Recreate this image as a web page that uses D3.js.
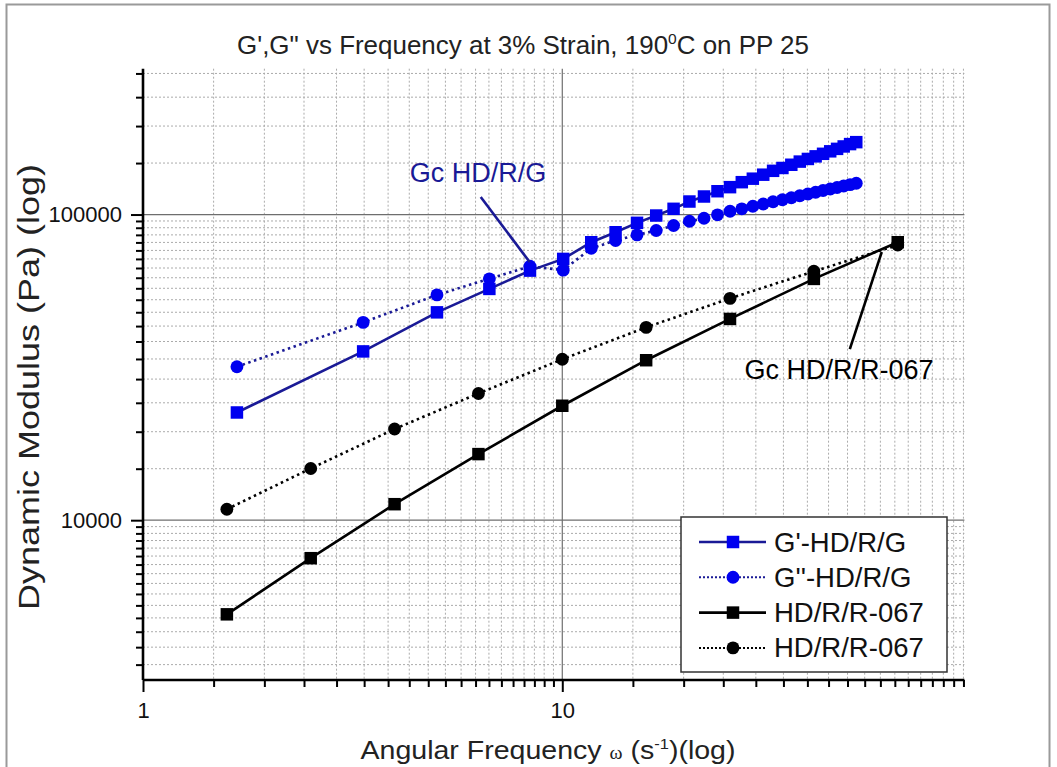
<!DOCTYPE html>
<html><head><meta charset="utf-8">
<script src="https://cdn.jsdelivr.net/npm/d3@7"></script>
<style>
body{margin:0;background:#fff}
svg{display:block}
text{font-family:"Liberation Sans",Arial,Helvetica,sans-serif}
</style>
</head><body>
<svg id="chart" width="1057" height="767"></svg>
<script>
// ---------------- data ----------------
const freqRRR = [1.585, 2.512, 3.981, 6.310, 10.00, 15.85, 25.12, 39.81, 63.10];
const gPrimeRRR = [4920, 7510, 11280, 16450, 23680, 33370, 45540, 61570, 81170];
const gDoubleRRR = [10860, 14760, 19870, 25980, 33620, 42740, 53190, 65200, 79450];

const freqG = [1.675, 3.35, 5.025, 6.70, 8.375, 10.05, 11.725, 13.40, 15.075, 16.75,
  18.425, 20.10, 21.775, 23.45, 25.125, 26.80, 28.475, 30.15, 31.825, 33.50,
  35.175, 36.85, 38.525, 40.20, 41.875, 43.55, 45.225, 46.90, 48.575, 50.25];
const gPrimeG = [22510, 35660, 47860, 57100, 65540, 71580, 81170, 87500, 93930, 99250,
  104400, 110300, 114550, 119200, 122900, 127600, 131000, 135000, 139000, 142000,
  145500, 149000, 152000, 155000, 158000, 161000, 164000, 167000, 170000, 172500];
const gDoubleG = [31780, 44380, 54580, 61610, 67740, 65770, 77560, 82190, 85800, 88640,
  92050, 95080, 97260, 99780, 102500, 104400, 106400, 108300, 110100, 111800,
  113500, 115200, 116700, 118300, 119800, 121200, 122600, 124000, 125300, 126600];

const xMajorTicks = [1, 10];
const xTickLabels = ["1", "10"];
const yMajorTicks = [10000, 100000];
const yTickLabels = ["10000", "100000"];
const xDomain = [1, 91];
const yDomain = [3000, 300000];

const legendLabels = ["G'-HD/R/G", "G''-HD/R/G", "HD/R/R-067", "HD/R/R-067"];
const annoG = {text: "Gc HD/R/G", tx: 4.33, ty: 127800, x1: 6.39, y1: 114100, x2: 8.36, y2: 69900};
const annoR = {text: "Gc HD/R/R-067", tx: 27.2, ty: 28930, x1: 48.5, y1: 36260, x2: 57.8, y2: 75400};

// ---------------- setup ----------------
const svg = d3.select("#chart");
const W = 1057, H = 767;
const plot = {left: 143, right: 964.4, top: 68.7, bottom: 680};
const BLUE = "#0000f0", NAVY = "#1a1a96", BLACK = "#000";

svg.append("rect").attr("width", W).attr("height", H).attr("fill", "#fff");
svg.append("rect").attr("x", 6.5).attr("y", 4.5).attr("width", 1043).attr("height", 800)
  .attr("fill", "none").attr("stroke", "#9a9a9a").attr("stroke-width", 2);

const x = d3.scaleLog().domain(xDomain).range([plot.left, plot.right]);
const y = d3.scaleLog().domain(yDomain).range([plot.bottom, plot.top]);

// Origin-style minor ticks: 18 linear subdivisions per decade
function minorTicks(domain) {
  const out = [];
  const lo = Math.floor(Math.log10(domain[0])), hi = Math.ceil(Math.log10(domain[1]));
  for (let e = lo; e < hi; e++) {
    const b = Math.pow(10, e);
    for (let k = 1; k <= 18; k++) {
      const v = b * (1 + 9 * k / 19);
      if (v >= domain[0] && v <= domain[1]) out.push(v);
    }
  }
  return out;
}
const xMinor = minorTicks(xDomain);
const yMinor = minorTicks(yDomain);

// ---------------- grid ----------------
const grid = svg.append("g");
grid.selectAll(".gxm").data(xMinor).join("line")
  .attr("x1", d => x(d)).attr("x2", d => x(d)).attr("y1", plot.top).attr("y2", plot.bottom)
  .attr("stroke", "#ababab").attr("stroke-width", 1).attr("stroke-dasharray", "2,2");
grid.selectAll(".gym").data(yMinor).join("line")
  .attr("y1", d => y(d)).attr("y2", d => y(d)).attr("x1", plot.left).attr("x2", plot.right)
  .attr("stroke", "#ababab").attr("stroke-width", 1).attr("stroke-dasharray", "2,2");
grid.selectAll(".gxM").data(xMajorTicks.filter(d => d > xDomain[0])).join("line")
  .attr("x1", d => x(d)).attr("x2", d => x(d)).attr("y1", plot.top).attr("y2", plot.bottom)
  .attr("stroke", "#6e6e6e").attr("stroke-width", 1.2);
grid.selectAll(".gyM").data(yMajorTicks).join("line")
  .attr("y1", d => y(d)).attr("y2", d => y(d)).attr("x1", plot.left).attr("x2", plot.right)
  .attr("stroke", "#6e6e6e").attr("stroke-width", 1.2);

// ---------------- axes ----------------
const xAxisG = svg.append("g").attr("transform", `translate(0,${plot.bottom})`);
xAxisG.call(d3.axisBottom(x).tickValues(xMinor).tickSize(7).tickFormat(""));
xAxisG.call(g => g.select(".domain").remove());
const xAxisM = svg.append("g").attr("transform", `translate(0,${plot.bottom})`);
xAxisM.call(d3.axisBottom(x).tickValues(xMajorTicks).tickSize(12).tickPadding(10)
  .tickFormat((d, i) => xTickLabels[i]));
xAxisM.select(".domain").attr("d", `M${plot.left},0H${plot.right}`);

const yAxisG = svg.append("g").attr("transform", `translate(${plot.left},0)`);
yAxisG.call(d3.axisLeft(y).tickValues(yMinor).tickSize(7).tickFormat(""));
yAxisG.call(g => g.select(".domain").remove());
const yAxisM = svg.append("g").attr("transform", `translate(${plot.left},0)`);
yAxisM.call(d3.axisLeft(y).tickValues(yMajorTicks).tickSize(12).tickPadding(9)
  .tickFormat((d, i) => yTickLabels[i]));
yAxisM.select(".domain").attr("d", `M0,${plot.bottom}V${plot.top}`);

svg.selectAll(".tick line").attr("stroke", "#000").attr("stroke-width", 2);
svg.selectAll(".domain").attr("stroke", "#000").attr("stroke-width", 2.6);
svg.selectAll(".tick text").attr("font-size", 22).attr("fill", "#111")
  .style("font-family", '"Liberation Sans", Arial, sans-serif');

// ---------------- series ----------------
const series = [
  {xs: freqG, ys: gPrimeG, line: NAVY, marker: BLUE, dash: null, shape: "square"},
  {xs: freqG, ys: gDoubleG, line: NAVY, marker: BLUE, dash: "2.5,3.5", shape: "circle"},
  {xs: freqRRR, ys: gPrimeRRR, line: BLACK, marker: BLACK, dash: null, shape: "square"},
  {xs: freqRRR, ys: gDoubleRRR, line: BLACK, marker: BLACK, dash: "2.5,3.5", shape: "circle"}
];
const lineGen = d3.line().x(d => x(d[0])).y(d => y(d[1]));
const sq = d3.symbol().type(d3.symbolSquare).size(156);
const ci = d3.symbol().type(d3.symbolCircle).size(130);

series.forEach(s => {
  const pts = s.xs.map((v, i) => [v, s.ys[i]]);
  svg.append("path").datum(pts).attr("d", lineGen).attr("fill", "none")
    .attr("stroke", s.line).attr("stroke-width", 2.6)
    .attr("stroke-dasharray", s.dash);
});
series.forEach(s => {
  const pts = s.xs.map((v, i) => [v, s.ys[i]]);
  svg.append("g").selectAll("path").data(pts).join("path")
    .attr("d", s.shape === "square" ? sq : ci)
    .attr("transform", d => `translate(${x(d[0])},${y(d[1])})`)
    .attr("fill", s.marker);
});

// ---------------- annotations ----------------
[[annoG, NAVY], [annoR, BLACK]].forEach(([a, col]) => {
  svg.append("line").attr("x1", x(a.x1)).attr("y1", y(a.y1)).attr("x2", x(a.x2)).attr("y2", y(a.y2))
    .attr("stroke", col).attr("stroke-width", 2.6);
  svg.append("text").attr("x", x(a.tx)).attr("y", y(a.ty)).attr("font-size", 27)
    .attr("fill", col).text(a.text);
});

// ---------------- legend ----------------
const lg = svg.append("g").attr("transform", "translate(681,517)");
lg.append("rect").attr("width", 266).attr("height", 155).attr("fill", "#fff")
  .attr("stroke", "#333").attr("stroke-width", 1.5);
series.forEach((s, i) => {
  const cy = 25 + i * 35.3;
  lg.append("line").attr("x1", 18).attr("x2", 85).attr("y1", cy).attr("y2", cy)
    .attr("stroke", s.line).attr("stroke-width", s.dash ? 2 : 2.6)
    .attr("stroke-dasharray", s.dash ? "2,2" : null);
  lg.append("path").attr("d", (s.shape === "square" ? sq : ci)())
    .attr("transform", `translate(52,${cy})`).attr("fill", s.marker);
  lg.append("text").attr("x", 93).attr("y", cy + 9.5).attr("font-size", 27.5)
    .attr("fill", "#111").text(legendLabels[i]);
});

// ---------------- titles ----------------
const title = svg.append("text").attr("x", 523).attr("y", 54).attr("text-anchor", "middle")
  .attr("font-size", 25).attr("fill", "#222")
  .attr("textLength", 572).attr("lengthAdjust", "spacingAndGlyphs");
title.append("tspan").text("G',G\" vs Frequency at 3% Strain, 190");
title.append("tspan").attr("dy", -10).attr("font-size", 15).text("0");
title.append("tspan").attr("dy", 10).text("C on PP 25");

const xl = svg.append("text").attr("x", 548).attr("y", 759).attr("text-anchor", "middle")
  .attr("font-size", 26).attr("fill", "#222")
  .attr("textLength", 375).attr("lengthAdjust", "spacingAndGlyphs");
xl.append("tspan").text("Angular Frequency ");
xl.append("tspan").attr("font-size", 18).style("font-family", '"Liberation Serif", serif').text("ω");
xl.append("tspan").text(" (s");
xl.append("tspan").attr("dy", -10).attr("font-size", 15).text("-1");
xl.append("tspan").attr("dy", 10).text(")(log)");

svg.append("text").attr("transform", "translate(39,387) rotate(-90)")
  .attr("text-anchor", "middle").attr("font-size", 29).attr("fill", "#222")
  .attr("textLength", 446).attr("lengthAdjust", "spacingAndGlyphs")
  .text("Dynamic Modulus (Pa) (log)");
</script>
</body></html>
